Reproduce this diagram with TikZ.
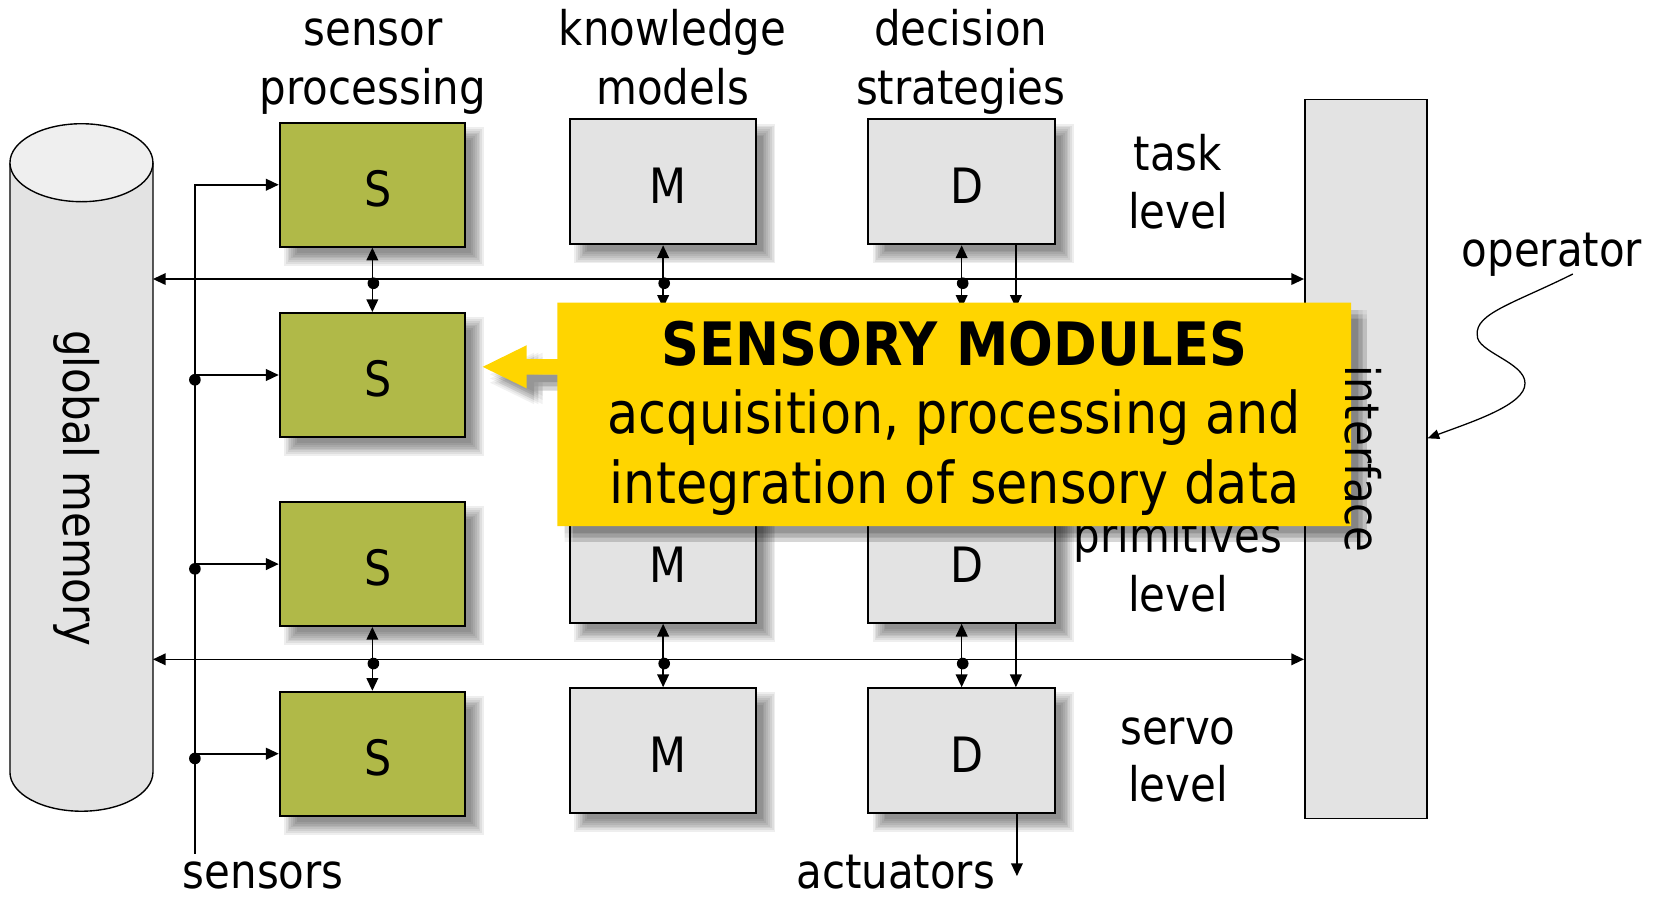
\documentclass[tikz,border=0pt]{standalone}
\usepackage{fontspec}
\setmainfont[FakeStretch=0.88]{DejaVu Sans}
\usetikzlibrary{arrows.meta,calc}

\definecolor{sensgreen}{RGB}{176,185,72}
\definecolor{boxgrey}{RGB}{227,227,227}
\definecolor{captop}{RGB}{239,239,239}
\definecolor{callout}{RGB}{255,213,0}

\pgfdeclarelayer{shade}
\pgfdeclarelayer{calloutshade}
\pgfdeclarelayer{front}
\pgfsetlayers{shade,main,calloutshade,front}

\newcommand\lblfont{\fontsize{45}{54}\selectfont}
\newcommand\modfont{\fontsize{46}{54}\selectfont}

% soft drop shadow under a rectangular node
\newcommand\boxshade[1]{%
  \foreach \k in {0,...,7}{%
    \pgfmathsetmacro\ins{-6+12*\k/7}%
    \fill[black,opacity=0.065]
      ([shift={(11+\ins,11+\ins)}]#1.north west) rectangle
      ([shift={(11-\ins,11-\ins)}]#1.south east);
  }}

% outline of the callout: a box with an arrow pointing left
\newcommand\calloutpath{(526.1,285.7) -- (1275.4,285.7) -- (1275.4,496.6)
  -- (526.1,496.6) -- (526.1,353.7) -- (497.2,353.7) -- (497.2,366.6)
  -- (455.7,346.3) -- (497.2,325.9) -- (497.2,338.9) -- (526.1,338.9) -- cycle}

\tikzset{
  module/.style={draw, line width=1.8pt, inner sep=0pt, font=\modfont,
    text height=41pt, text depth=0pt, execute at begin node={\hspace*{10pt}}},
  smod/.style={module, fill=sensgreen, minimum width=175pt, minimum height=117pt},
  gmod/.style={module, fill=boxgrey, minimum width=176pt, minimum height=118pt},
  lbl/.style={font=\lblfont, anchor=base, inner sep=0pt},
  link/.style={line width=1.5pt},
  bus/.style={line width=1.4pt, <->},
}

\begin{document}
\begin{tikzpicture}[x=1pt, y=-1pt, >={Triangle[length=12pt,width=11pt]}]
\begin{pgfonlayer}{shade}
  \fill[white] (0,0) rectangle (1568,848);
\end{pgfonlayer}
\useasboundingbox (0,0) rectangle (1568,848);

% global memory cylinder
\fill[boxgrey] (9.4,153.6) -- (9.4,729)
  arc[start angle=180, end angle=0, x radius=67.5, y radius=36.8]
  -- (144.4,153.6) -- cycle;
\draw[line width=1.3pt] (9.4,153.6) -- (9.4,729)
  arc[start angle=180, end angle=0, x radius=67.5, y radius=36.8]
  -- (144.4,153.6);
\filldraw[fill=captop, line width=1.3pt] (76.9,153.6) ellipse[x radius=67.5, y radius=36.8];
\coordinate (mem-e) at (144.4,461);
\node[lbl, rotate=-90] (memlbl) at (59.8,461) {global memory};

% operator interface column
\node[draw, fill=boxgrey, line width=1.6pt, minimum width=115pt, minimum height=679pt,
  inner sep=0pt, anchor=north west] (iface) at (1231,93) {};

% sensory, model and decision modules
\node[smod] (s1) at (351.5,174.4) {S};
\node[smod] (s2) at (351.5,354) {S};
\node[smod] (s3) at (351.5,532.5) {S};
\node[smod] (s4) at (351.5,711.5) {S};
\node[gmod] (m1) at (626,171.7) {M};
\node[gmod] (m2) at (626,350.5) {};
\node[gmod] (m3) at (626,529) {M};
\node[gmod] (m4) at (626,708.6) {M};
\node[gmod] (d1) at (907.8,171.7) {D};
\node[gmod] (d2) at (907.8,350.5) {};
\node[gmod] (d3) at (907.8,529) {D};
\node[gmod] (d4) at (907.8,708.6) {D};

\begin{pgfonlayer}{shade}
  \foreach \n in {s1,s2,s3,s4,m1,m2,m3,m4,d1,d2,d3,d4}{\boxshade{\n}}
\end{pgfonlayer}

% column headings
\node[lbl] (sp1) at (352,43) {sensor};
\node[lbl] (sp2) at (352,99) {processing};
\node[lbl] (km1) at (635,43) {knowledge};
\node[lbl] (km2) at (635,99) {models};
\node[lbl] (ds1) at (907,43) {decision};
\node[lbl] (ds2) at (907,99) {strategies};

% level names
\node[lbl] (tl1) at (1112,161) {task};
\node[lbl] (tl2) at (1112,216) {level};
\node[lbl] (pl1) at (1112,522) {primitives};
\node[lbl] (pl2) at (1112,577.4) {level};
\node[lbl] (sl1) at (1112,703) {servo};
\node[lbl] (sl2) at (1112,757) {level};

% communication buses between memory and interface
\coordinate (busA) at (0,263.4);
\coordinate (busB) at (0,622.4);
\draw[bus] (mem-e |- busA) -- (iface.west |- busA);
\draw[bus] (mem-e |- busB) -- (iface.west |- busB);

% links between levels, tapped onto the buses
\foreach \a/\b/\bs in {s1/s2/busA, m1/m2/busA, d1/d2/busA, s3/s4/busB, m3/m4/busB, d3/d4/busB}{
  \draw[link, <->] (\a.south) -- (\b.north);
  \fill ($(\a.south |- \bs)+(1,4)$) circle[radius=5.5];
}

% commands handed down by the decision modules
\coordinate (cmd) at (959,0);
\coordinate (actend) at (960,827);
\draw[link, ->] (d1.south -| cmd) -- (d2.north -| cmd);
\draw[link, ->] (d3.south -| cmd) -- (d4.north -| cmd);
\draw[link, ->] (d4.south -| actend) -- (actend);
\node[lbl, text depth=0pt] (act) at (845.5,839) {actuators};

% sensor inputs
\coordinate (sTop) at (184,174.4);
\coordinate (sBot) at (184,806);
\draw[link, ->] (sBot) -- (sTop) -- (s1.west);
\foreach \n in {s2,s3,s4}{
  \draw[link, ->] (sTop |- \n.west) -- (\n.west);
  \fill ($(sTop |- \n.west)+(0,4.5)$) circle[radius=5.5];
}
\node[lbl, text depth=0pt] (sens) at (248.5,839) {sensors};

% operator
\node[lbl] (oper) at (1465,251.7) {operator};
\coordinate (opS) at (1484.7,258.7);
\coordinate (opT) at (1348,413.8);
\draw[line width=1.2pt, -{Triangle[length=11pt,width=9pt]}] (opS)
  .. controls (1430,286) and (1392,296) .. (1394.6,316.2)
  .. controls (1393,332) and (1440,342) .. (1439.6,361.9)
  .. controls (1440,382) and (1390,398) .. (iface.east |- opT);

% highlighted callout
\begin{pgfonlayer}{calloutshade}
  \foreach \dx in {-4,0,4}{\foreach \dy in {-4,0,4}{
    \fill[black, opacity=0.055, shift={(11+\dx,11+\dy)}] \calloutpath;
  }}
\end{pgfonlayer}
\begin{pgfonlayer}{front}
  \fill[callout] \calloutpath;
  \node[anchor=base, inner sep=0pt, font=\bfseries\fontsize{56.5}{60}\selectfont] (ttl)
    at (901,344.6) {SENSORY MODULES};
  \node[anchor=base, inner sep=0pt, font=\fontsize{54.5}{60}\selectfont] (ln1)
    at (901,409) {acquisition, processing and};
  \node[anchor=base, inner sep=0pt, font=\fontsize{54.5}{60}\selectfont] (ln2)
    at (901,475) {integration of sensory data};
  \node[lbl, rotate=-90] (ifl) at (1270,433.5) {interface};
\end{pgfonlayer}
\end{tikzpicture}
\end{document}
